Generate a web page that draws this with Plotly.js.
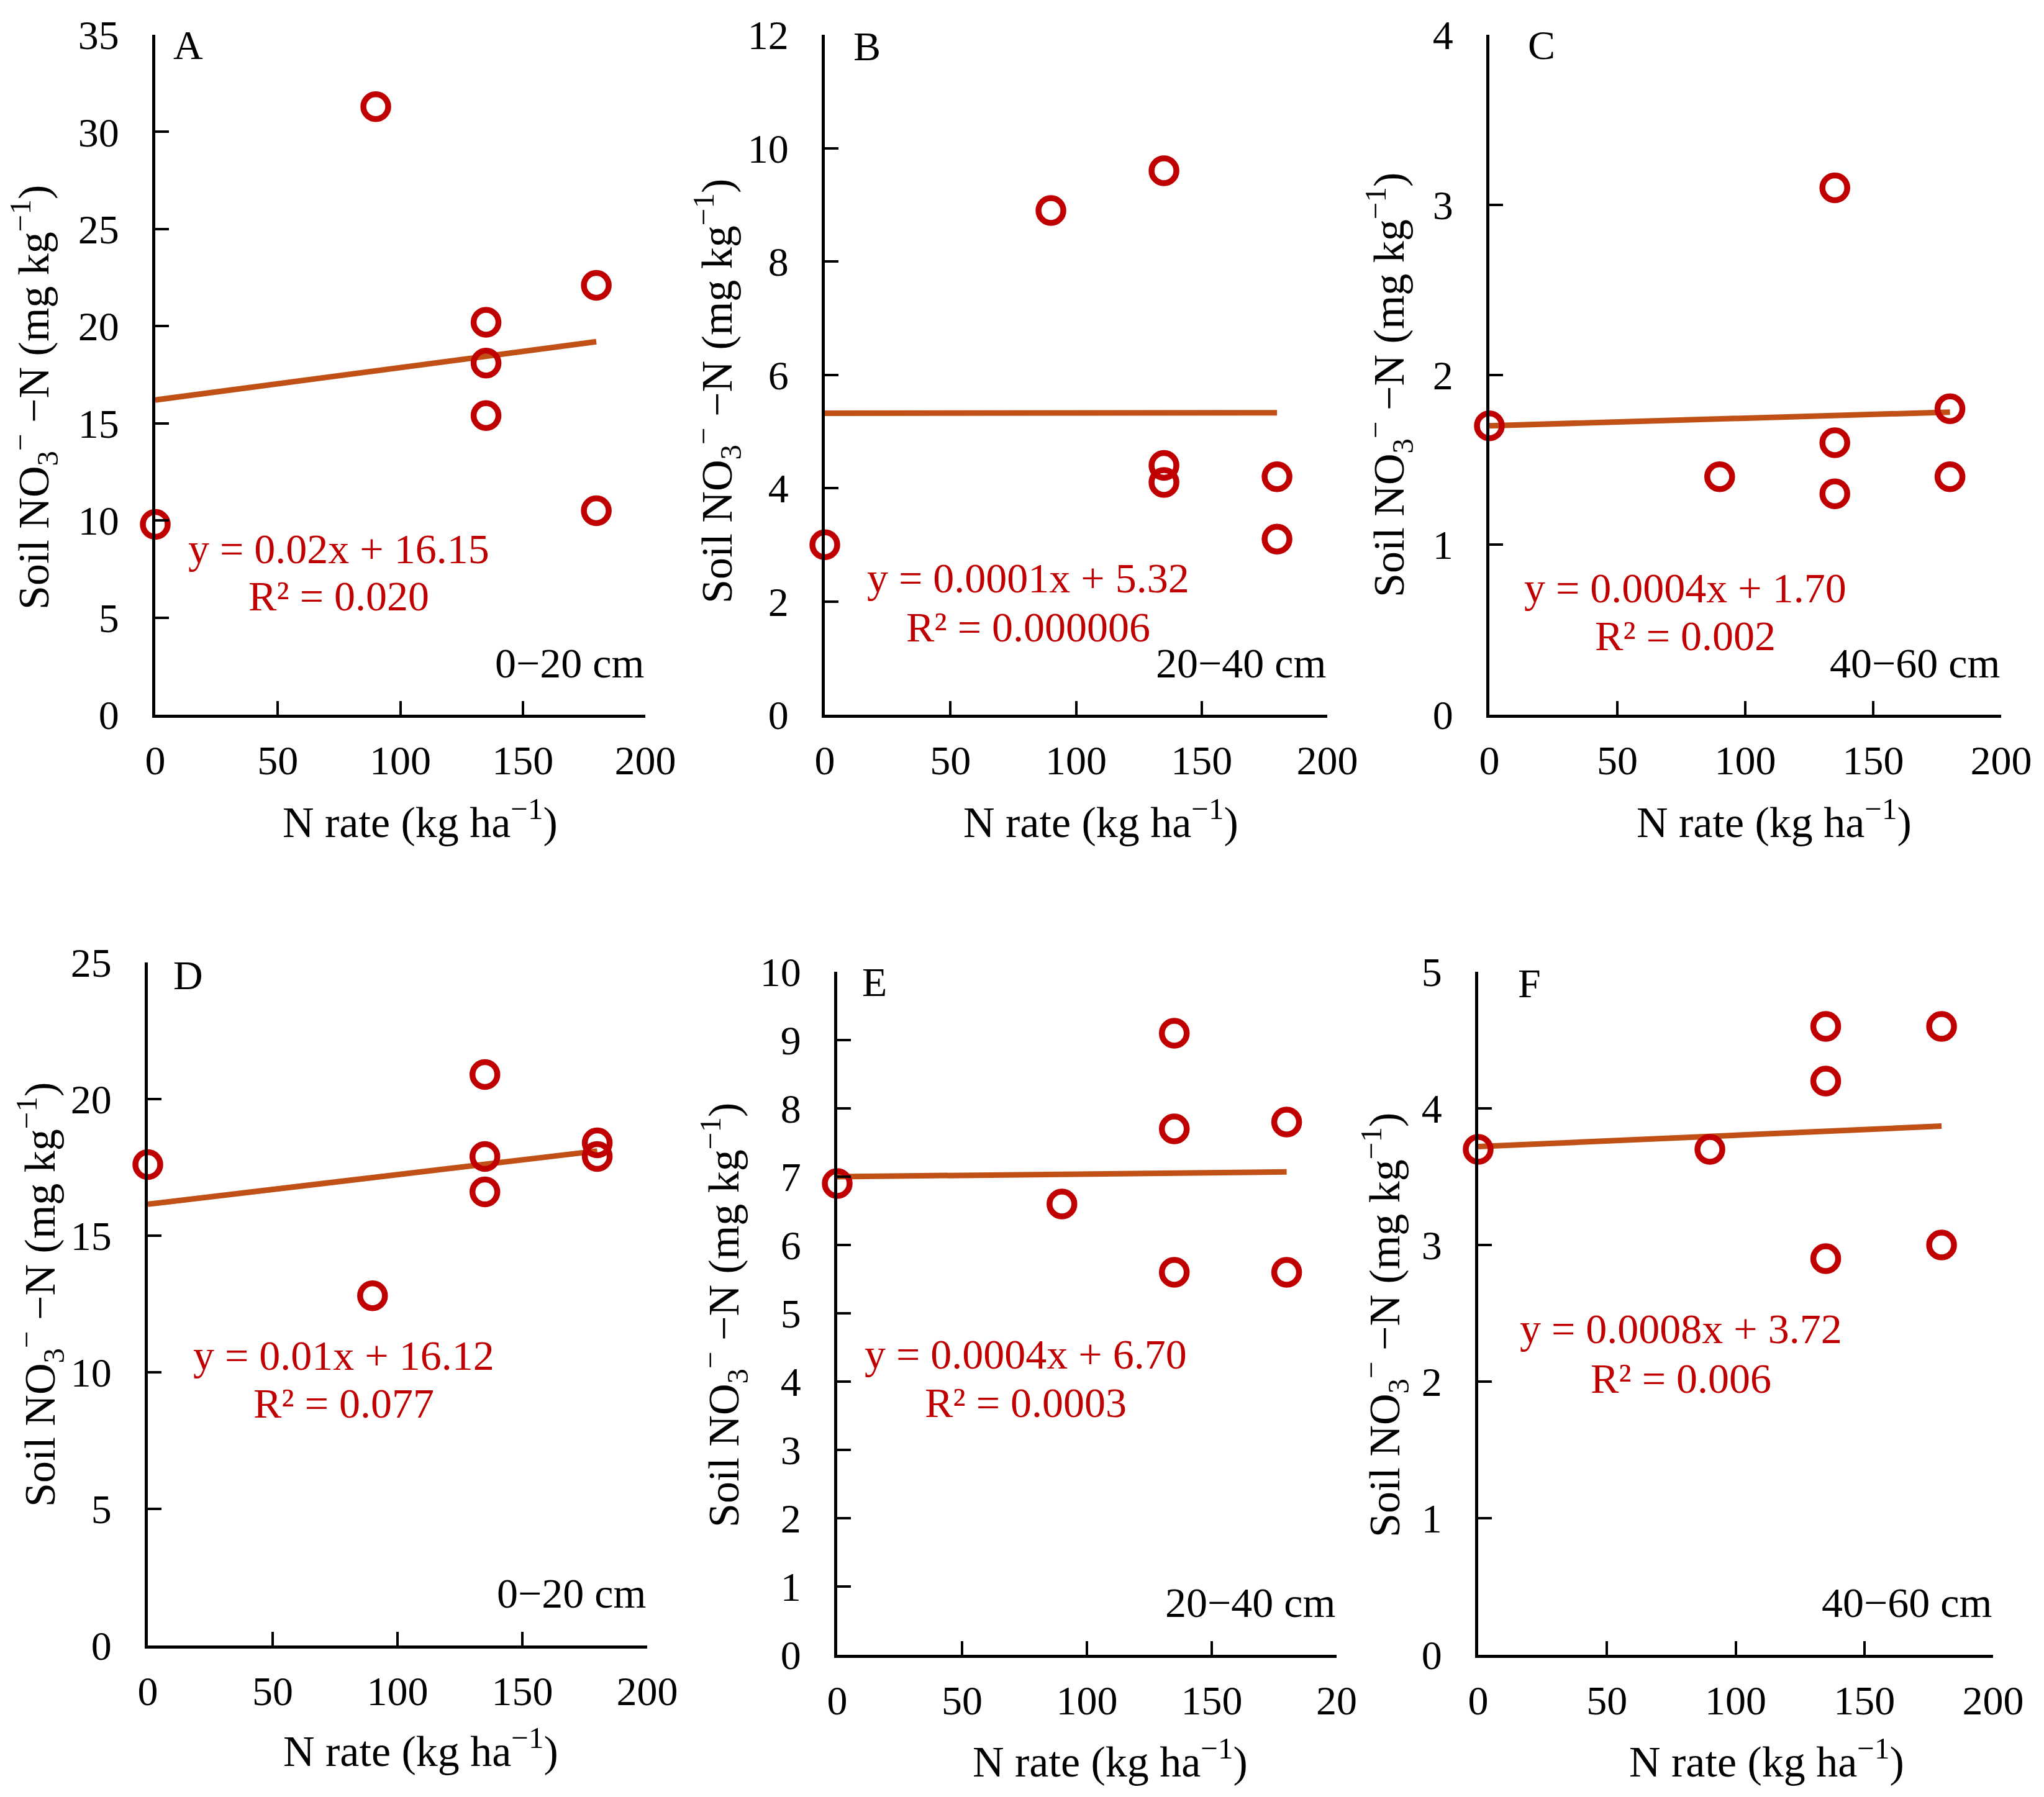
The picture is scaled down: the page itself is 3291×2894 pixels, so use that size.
<!DOCTYPE html>
<html>
<head>
<meta charset="utf-8">
<script src="https://cdn.plot.ly/plotly-3.0.1.min.js"></script>
<style>html,body{margin:0;padding:0;background:#fff;}</style>
</head>
<body>
<div id="chart" style="width:3291px;height:2894px;"></div>
<script>
// ---- data ----
const nRate = [0, 90, 135, 135, 135, 180, 180];
const nitrateA = [9.8, 31.3, 20.2, 18.1, 15.4, 22.1, 10.5];
const nitrateB = [3.0, 8.9, 9.6, 4.4, 4.1, 4.2, 3.1];
const nitrateC = [1.7, 1.4, 3.1, 1.6, 1.3, 1.8, 1.4];
const nitrateD = [17.6, 12.8, 20.9, 17.9, 16.6, 18.4, 17.9];
const nitrateE = [6.9, 6.6, 9.1, 7.7, 5.6, 7.8, 5.6];
const nitrateF = [3.7, 3.7, 4.6, 4.2, 2.9, 4.6, 3.0];

const trendX = [0, 180];
const trendA = [16.2, 19.2];
const trendB = [5.32, 5.33];
const trendC = [1.70, 1.78];
const trendD = [16.15, 18.1];
const trendE = [7.0, 7.07];
const trendF = [3.72, 3.87];

const panelLetters = ["A", "B", "C", "D", "E", "F"];
const depthLabels = ["0\u221220 cm", "20\u221240 cm", "40\u221260 cm", "0\u221220 cm", "20\u221240 cm", "40\u221260 cm"];
const equations = ["y = 0.02x + 16.15", "y = 0.0001x + 5.32", "y = 0.0004x + 1.70",
                   "y = 0.01x + 16.12", "y = 0.0004x + 6.70", "y = 0.0008x + 3.72"];
const r2Labels = ["R\u00b2 = 0.020", "R\u00b2 = 0.000006", "R\u00b2 = 0.002",
                  "R\u00b2 = 0.077", "R\u00b2 = 0.0003", "R\u00b2 = 0.006"];
const xTitle = "N rate (kg ha<sup>\u22121</sup>)";
const yTitle = "Soil NO<sub>3</sub><sup>\u2212</sup> \u2212N (mg kg<sup>\u22121</sup>)";
const yMax = [35, 12, 4, 25, 10, 5];
const yStep = [5, 2, 1, 5, 1, 1];
const xTickVals = [0, 50, 100, 150, 200];
const xTickText = ["0", "50", "100", "150", "200"];
const xTickTextE = ["0", "50", "100", "150", "20"];

const seriesY = [nitrateA, nitrateB, nitrateC, nitrateD, nitrateE, nitrateF];
const trendY = [trendA, trendB, trendC, trendD, trendE, trendF];

// ---- layout geometry (pixels of the 3291x2894 page) ----
const W = 3291, H = 2894;
const px = [[250,1039],[1328,2137],[2398,3222],[238,1042],[1348,2152],[2380,3209]];
const py = [[56,1151],[56,1151],[56,1151],[1550,2650],[1565,2665],[1565,2665]];
const xTitlePos = [[676,1319],[1772,1319],[2856,1319],[677,2815],[1787,2832],[2844,2832]];
const yTitlePos = [[54,640],[1154,630],[2236,620],[64,2085],[1165,2118],[2229,2134]];
const eqPos = [[0.375,0.244,0.174],[0.405,0.201,0.129],[0.383,0.186,0.116],
               [0.392,0.425,0.355],[0.378,0.440,0.369],[0.394,0.477,0.405]];
const letterPos = [[0.067,0.985],[0.084,0.983],[0.102,0.985],[0.081,0.981],[0.075,0.985],[0.100,0.983]];

const FONT = "Liberation Serif";
const RED = "#C00000";
const ORANGE = "#C05016";

const traces = [];
const layout = {
  width: W, height: H,
  margin: {l: 0, r: 0, t: 0, b: 0},
  paper_bgcolor: "#ffffff",
  plot_bgcolor: "rgba(0,0,0,0)",
  showlegend: false,
  font: {family: FONT, color: "#000000", size: 66},
  annotations: []
};

for (let i = 0; i < 6; i++) {
  const sfx = i === 0 ? "" : String(i + 1);
  const xa = "x" + sfx, ya = "y" + sfx;
  traces.push({
    type: "scatter", mode: "lines", x: trendX, y: trendY[i],
    xaxis: xa, yaxis: ya, cliponaxis: false,
    line: {color: ORANGE, width: 9},
    hoverinfo: "skip"
  });
  traces.push({
    type: "scatter", mode: "markers", x: nRate, y: seriesY[i],
    xaxis: xa, yaxis: ya, cliponaxis: false,
    marker: {symbol: "circle-open", size: 40, color: RED, line: {width: 9.5, color: RED}},
    hoverinfo: "skip"
  });

  const yticks = [];
  for (let v = 0; v <= yMax[i] + 1e-9; v += yStep[i]) yticks.push(v);

  layout["xaxis" + sfx] = {
    domain: [px[i][0] / W, px[i][1] / W],
    anchor: ya, range: [0, 200],
    showline: true, linecolor: "#000", linewidth: 5,
    ticks: "inside", ticklen: 22, tickwidth: 4, tickcolor: "#000",
    tickvals: xTickVals, ticktext: i === 4 ? xTickTextE : xTickText,
    tickfont: {family: FONT, size: 66, color: "#000"},
    ticklabelstandoff: 12,
    showgrid: false, zeroline: false, fixedrange: true
  };
  layout["yaxis" + sfx] = {
    domain: [1 - py[i][1] / H, 1 - py[i][0] / H],
    anchor: xa, range: [0, yMax[i]],
    showline: true, linecolor: "#000", linewidth: 5,
    ticks: "inside", ticklen: 22, tickwidth: 4, tickcolor: "#000",
    tickvals: yticks,
    tickfont: {family: FONT, size: 66, color: "#000"},
    ticklabelstandoff: 40,
    showgrid: false, zeroline: false, fixedrange: true
  };

  // axis titles
  layout.annotations.push({
    xref: "paper", yref: "paper", x: xTitlePos[i][0] / W, y: 1 - xTitlePos[i][1] / H,
    text: xTitle, showarrow: false, xanchor: "center", yanchor: "middle",
    font: {family: FONT, size: 70, color: "#000"}
  });
  layout.annotations.push({
    xref: "paper", yref: "paper", x: yTitlePos[i][0] / W, y: 1 - yTitlePos[i][1] / H,
    text: yTitle, textangle: -90, showarrow: false, xanchor: "center", yanchor: "middle",
    font: {family: FONT, size: 70, color: "#000"}
  });

  const xd = xa + " domain", yd = ya + " domain";
  layout.annotations.push({
    xref: xd, yref: yd, x: eqPos[i][0], y: eqPos[i][1], text: equations[i],
    showarrow: false, xanchor: "center", yanchor: "middle",
    font: {family: FONT, size: 68, color: RED}
  });
  layout.annotations.push({
    xref: xd, yref: yd, x: eqPos[i][0], y: eqPos[i][2], text: r2Labels[i],
    showarrow: false, xanchor: "center", yanchor: "middle",
    font: {family: FONT, size: 68, color: RED}
  });
  layout.annotations.push({
    xref: xd, yref: yd, x: 1.0, y: 0.076, text: depthLabels[i],
    showarrow: false, xanchor: "right", yanchor: "middle",
    font: {family: FONT, size: 68, color: "#000"}
  });
  layout.annotations.push({
    xref: xd, yref: yd, x: letterPos[i][0], y: letterPos[i][1], text: panelLetters[i],
    showarrow: false, xanchor: "center", yanchor: "middle",
    font: {family: FONT, size: 66, color: "#000"}
  });
}

Plotly.newPlot("chart", traces, layout, {staticPlot: true, displayModeBar: false});
</script>
</body>
</html>
